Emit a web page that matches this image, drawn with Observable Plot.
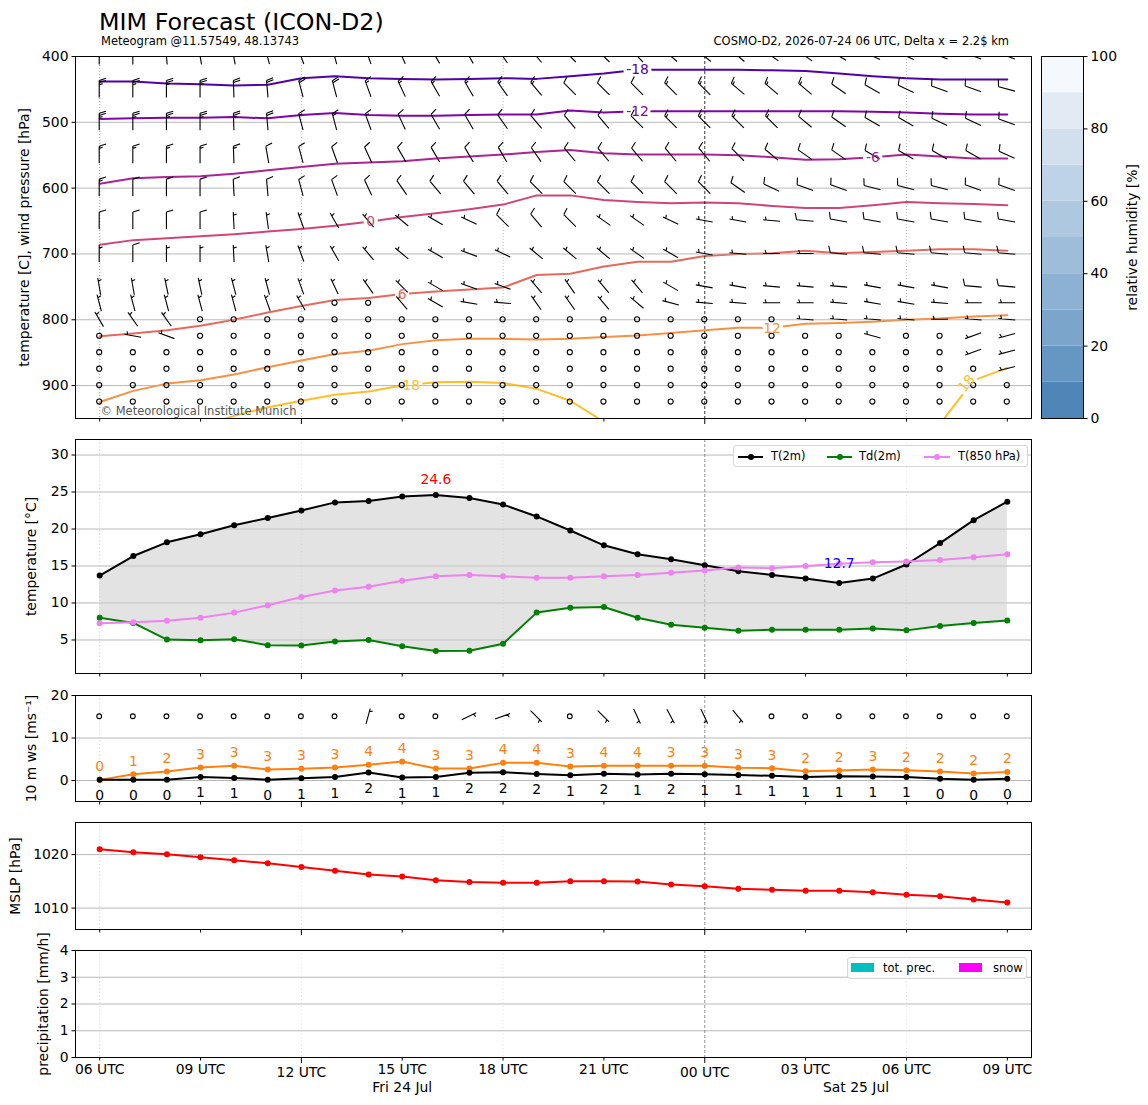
<!DOCTYPE html>
<html><head><meta charset="utf-8">
<script src="https://cdn.jsdelivr.net/npm/d3@7"></script>
<script src="https://cdn.jsdelivr.net/npm/@observablehq/plot@0.6"></script>
<style>
body{margin:0;background:#fff;font-family:"DejaVu Sans",sans-serif;}
#fig{position:relative;width:1148px;height:1105px;overflow:hidden;background:#fff}
</style></head><body><div id="fig"></div>
<script>
// ---------------- data ----------------
const timeLabels = ["2026-07-24T06:00Z","2026-07-24T07:00Z","2026-07-24T08:00Z","2026-07-24T09:00Z","2026-07-24T10:00Z","2026-07-24T11:00Z","2026-07-24T12:00Z","2026-07-24T13:00Z","2026-07-24T14:00Z","2026-07-24T15:00Z","2026-07-24T16:00Z","2026-07-24T17:00Z","2026-07-24T18:00Z","2026-07-24T19:00Z","2026-07-24T20:00Z","2026-07-24T21:00Z","2026-07-24T22:00Z","2026-07-24T23:00Z","2026-07-25T00:00Z","2026-07-25T01:00Z","2026-07-25T02:00Z","2026-07-25T03:00Z","2026-07-25T04:00Z","2026-07-25T05:00Z","2026-07-25T06:00Z","2026-07-25T07:00Z","2026-07-25T08:00Z","2026-07-25T09:00Z"];
const dayLabels = [{t:"2026-07-24T15:00Z", s:"Fri 24 Jul"}, {t:"2026-07-25T04:30Z", s:"Sat 25 Jul"}];

const t2m  = [13.7,16.35,18.2,19.3,20.5,21.5,22.5,23.6,23.8,24.4,24.6,24.2,23.3,21.7,19.8,17.8,16.6,15.9,15.1,14.3,13.8,13.3,12.7,13.3,15.2,18.1,21.2,23.7];
const td2m = [8.0,7.3,5.05,4.95,5.1,4.3,4.25,4.8,5.0,4.15,3.5,3.55,4.5,8.7,9.35,9.45,8.0,7.05,6.65,6.25,6.4,6.4,6.4,6.55,6.3,6.9,7.3,7.65];
const t850 = [7.25,7.4,7.6,8.0,8.7,9.7,10.8,11.7,12.2,13.0,13.6,13.8,13.6,13.4,13.4,13.6,13.8,14.1,14.4,14.8,14.7,15.0,15.3,15.5,15.6,15.8,16.2,16.6];

const ws10   = [0.15,0.2,0.2,0.85,0.6,0.2,0.55,0.8,1.9,0.7,0.85,1.8,1.95,1.55,1.25,1.6,1.4,1.6,1.45,1.3,1.1,0.85,1.0,0.95,0.85,0.4,0.2,0.4];
const gust10 = [0.15,1.45,2.1,3.05,3.45,2.6,2.75,3.05,3.7,4.45,2.8,2.8,4.15,4.15,3.3,3.5,3.5,3.45,3.45,3.0,2.9,2.2,2.35,2.6,2.4,2.1,1.65,2.0];
const dir10  = [0,0,0,0,0,0,0,0,15,0,0,65,70,135,140,135,155,152,155,140,0,0,0,0,0,0,0,0];

const mslp = [1021.0,1020.45,1020.05,1019.5,1018.95,1018.4,1017.7,1017.0,1016.3,1015.9,1015.2,1014.9,1014.75,1014.75,1015.0,1015.0,1014.95,1014.4,1014.1,1013.6,1013.45,1013.25,1013.25,1012.95,1012.5,1012.2,1011.6,1011.05];
const totPrec = [0,0,0,0,0,0,0,0,0,0,0,0,0,0,0,0,0,0,0,0,0,0,0,0,0,0,0,0];
const snowPrec = [0,0,0,0,0,0,0,0,0,0,0,0,0,0,0,0,0,0,0,0,0,0,0,0,0,0,0,0];

// isotherms: pressure [hPa] of each temperature level per hour (null = below ground / not drawn)
const contourLevels = [-18,-12,-6,0,6,12,18];
const isoM18 = [438,438,441,442,444,443,433,430,433,434,435,434,433,434,430,426,420,420,420,420,421,422,426,430,433,435,435,435];
const isoM12 = [495,494,493,493,492,494,489,486,489,490,490,489,488,488,482,485,483,483,483,483,483,483,483,484,485,487,488,488];
const isoM6  = [593.5,585,583,582,578,573,568,563,561,559,555,552,549,545,542,547,549,549,549,550,553,557,556,553,549,552,555,555];
const iso0   = [686,679,676,673,670,666,662,657,651,644,638,632,625,611,611,618,621,623,622,623,627,630,630,626,621,623,624,626];
const iso6   = [825,821,816,809,800,789,779,770,767,761,757,754,751,732,730,719,712,712,703,700,699,695,699,697,695,693,693,695];
const iso12  = [925,908,897,892,883,872,862,852,847,837,831,829,829,830,829,826,824,820,816,812,812,806,805,803,800,798,795,793];
const iso18  = [null,null,null,962,946,933,923,914,909,900,895,894,896,905,923,955,null,null,null,null,null,null,null,null,null,958,892,873];

// wind barbs: levels [hPa], direction [deg], speed [kt]
const barbLevels = [400,450,500,550,600,650,700,750,775,800,825,850,875,900,925];
const windDir = [
 [0,0,355,350,350,345,340,345,340,335,330,330,325,320,315,315,315,310,310,310,305,305,300,295,295,290,290,290],
 [0,0,0,0,358,355,345,345,340,335,330,330,325,320,315,315,315,315,315,310,310,310,305,300,295,290,290,285],
 [0,0,0,0,358,355,345,345,340,335,330,330,325,320,320,320,315,315,315,315,315,310,305,300,300,295,295,290],
 [0,0,0,0,358,350,345,340,335,330,330,330,330,325,320,320,320,320,320,315,310,305,305,300,300,300,300,295],
 [0,0,0,0,357,355,345,340,335,325,320,320,320,315,315,315,315,315,315,305,295,290,290,285,285,285,290,290],
 [0,0,0,0,357,352,340,330,320,310,300,295,315,320,315,305,305,295,280,280,275,275,280,280,280,280,280,280],
 [0,0,0,0,357,350,340,330,320,310,300,290,295,310,310,310,305,300,280,275,270,270,275,275,275,275,275,275],
 [350,350,348,348,345,345,340,335,325,315,300,290,290,320,325,320,320,300,280,280,275,275,275,280,280,280,275,275],
 [345,345,345,345,345,340,330,0,0,320,300,280,275,325,325,320,310,285,275,275,270,270,275,280,280,275,270,270],
 [330,325,325,0,0,0,0,0,0,0,0,0,0,0,0,0,0,0,0,0,0,275,275,275,275,270,275,275],
 [0,280,290,0,0,0,0,0,0,0,0,0,0,0,0,0,0,0,0,0,0,0,0,285,0,0,250,255],
 [0,0,0,0,0,0,0,0,0,0,0,0,0,0,0,0,0,0,0,0,0,0,0,0,0,0,250,255],
 [0,0,0,0,0,0,0,0,0,0,0,0,0,0,0,0,0,0,0,0,0,0,0,0,0,0,0,255],
 [0,0,0,0,0,0,0,0,0,0,0,0,0,0,0,0,0,0,0,0,0,0,0,0,0,0,0,0],
 [0,0,0,0,0,0,0,0,0,0,0,0,0,0,0,0,0,0,0,0,0,0,0,0,0,0,0,0]
];
const windSpd = [
 [25,25,25,25,25,25,20,20,20,20,15,15,15,15,15,15,15,15,15,15,15,15,15,15,15,15,15,15],
 [25,25,25,25,20,20,20,20,15,15,15,15,15,15,10,10,10,15,15,15,15,15,10,10,10,10,10,10],
 [25,25,25,25,25,20,15,15,15,10,10,10,10,10,10,10,10,15,15,15,15,10,10,10,10,10,10,10],
 [15,15,15,15,15,10,10,10,10,10,10,10,10,10,10,10,10,10,10,10,10,10,10,10,10,10,10,10],
 [15,10,10,10,10,10,10,10,10,10,10,10,10,10,10,10,10,10,10,10,10,10,10,10,10,10,10,10],
 [10,10,10,10,5,5,5,5,5,5,5,5,10,10,10,5,5,5,5,5,5,10,10,10,10,10,10,10],
 [5,10,5,5,5,5,5,5,5,5,5,5,5,5,5,5,5,5,5,5,5,5,10,10,10,10,10,10],
 [5,5,5,5,5,5,5,5,5,5,5,5,5,5,5,5,5,5,5,5,5,5,5,5,5,5,10,10],
 [5,5,5,5,5,5,5,0,0,5,5,5,5,5,5,5,5,5,5,5,5,5,5,5,5,5,5,5],
 [5,5,5,0,0,0,0,0,0,0,0,0,0,0,0,0,0,0,0,0,0,5,5,5,5,5,5,5],
 [0,5,5,0,0,0,0,0,0,0,0,0,0,0,0,0,0,0,0,0,0,0,0,5,0,0,5,5],
 [0,0,0,0,0,0,0,0,0,0,0,0,0,0,0,0,0,0,0,0,0,0,0,0,0,0,5,5],
 [0,0,0,0,0,0,0,0,0,0,0,0,0,0,0,0,0,0,0,0,0,0,0,0,0,0,0,5],
 [0,0,0,0,0,0,0,0,0,0,0,0,0,0,0,0,0,0,0,0,0,0,0,0,0,0,0,0],
 [0,0,0,0,0,0,0,0,0,0,0,0,0,0,0,0,0,0,0,0,0,0,0,0,0,0,0,0]
];

// relative humidity colorbar
const rhBounds = [0,10,20,30,40,50,60,70,80,90,100];
const rhColors = ["#4f86b8","#6697c3","#7ba5cb","#8db1d2","#9dbdd8","#aec8df","#bed3e7","#d2e0ed","#e2eaf3","#f5f9fd"];
const rhTicks = [0,20,40,60,80,100];

const yTicks1 = [400,500,600,700,800,900];
const yTicks2 = [5,10,15,20,25,30];
const yTicks3 = [0,10,20];
const yTicks4 = [1010,1020];
const yTicks5 = [0,1,2,3,4];

// ---------------- layout / styling ----------------
const FONT = "DejaVu Sans";
const FS = 13.9;
const times = timeLabels.map(s => new Date(s));
const HOUR = 3600e3;
const padH = 0.72;
const xDomain = [new Date(+times[0] - padH*HOUR), new Date(+times[times.length-1] + padH*HOUR)];
const tick3 = times.filter(d => d.getUTCHours() % 3 === 0);
const tickMajor = tick3.filter(d => d.getUTCHours() % 12 === 0);
const tickMinor = tick3.filter(d => d.getUTCHours() % 12 !== 0);
const grid6 = times.filter(d => d.getUTCHours() % 6 === 0 && d.getUTCHours() !== 0);
const midnight = times.filter(d => d.getUTCHours() === 0);
const isoColors = contourLevels.map((v,i) => d3.interpolatePlasma(0.14 + i*0.12));
const isotherms = [isoM18, isoM12, isoM6, iso0, iso6, iso12, iso18];
const isoLabelSpots = [
  {k:0, col:16, dx:0, dy:0, rot:0},
  {k:1, col:16, dx:0, dy:0, rot:0},
  {k:2, col:23, dx:0, dy:0, rot:0},
  {k:3, col:8, dx:2, dy:0, rot:0},
  {k:4, col:9, dx:0, dy:0, rot:0},
  {k:5, col:20, dx:0, dy:1, rot:0},
  {k:6, col:9, dx:9, dy:0, rot:0},
  {k:6, col:26, dx:-7, dy:3, rot:-50}
];

const fig = document.getElementById("fig");
function place(el, left, top) {
  el.style.position = "absolute"; el.style.left = left + "px"; el.style.top = top + "px";
  fig.appendChild(el);
}
function common(h, mt, mb) {
  return {width: 1148, height: h, marginLeft: 75, marginRight: 117, marginTop: mt, marginBottom: mb,
    style: {fontFamily: FONT, fontSize: FS + "px", background: "transparent", overflow: "visible", color: "black"},
    x: {type: "utc", domain: xDomain, axis: null}};
}
function xAxes(labels) {
  const fmt = labels ? d3.utcFormat("%H UTC") : () => "";
  return [
    Plot.axisX(tickMinor, {tickSize: 3.5, tickPadding: 3.5, tickFormat: fmt, label: null, fontSize: FS}),
    Plot.axisX(tickMajor, {tickSize: 6, tickPadding: 3.5, tickFormat: fmt, label: null, fontSize: FS})
  ];
}
function yAxis(ticks) {
  return Plot.axisY(ticks, {anchor: "left", tickSize: 3.5, tickPadding: 3.5, label: null, tickFormat: d => String(d), fontSize: FS});
}
function yLabel(s, dx) {
  return Plot.text([s], {frameAnchor: "left", dx, rotate: -90, text: d => d, textAnchor: "middle", lineAnchor: "middle", fontSize: FS});
}
const gridH = ticks => Plot.ruleY(ticks, {stroke: "#b0b0b0", strokeWidth: 0.9});
const gridV = Plot.ruleX(grid6, {stroke: "#d4d4d4", strokeWidth: 0.7, strokeDasharray: "1,2.5"});
const midRule = (c) => Plot.ruleX(midnight, {stroke: c, strokeWidth: 0.8, strokeDasharray: "3,2"});

// wind barb renderer (uses the plot's own x / y scales)
let clipCounter = 0;
function barbMark(items, L) {
  return (index, scales, values, dims) => {
    const ns = "http://www.w3.org/2000/svg";
    const g = document.createElementNS(ns, "g");
    const id = "barbclip" + (clipCounter++);
    const cp = document.createElementNS(ns, "clipPath"); cp.setAttribute("id", id);
    const r = document.createElementNS(ns, "rect");
    r.setAttribute("x", dims.marginLeft); r.setAttribute("y", dims.marginTop);
    r.setAttribute("width", dims.width - dims.marginLeft - dims.marginRight);
    r.setAttribute("height", dims.height - dims.marginTop - dims.marginBottom);
    cp.appendChild(r); g.appendChild(cp);
    const inner = document.createElementNS(ns, "g");
    inner.setAttribute("clip-path", `url(#${id})`);
    g.appendChild(inner);
    const H = 0.4*L, W = 0.25*L, S = 0.125*L, R = 0.15*L;
    let lines = "", flags = "";
    for (const it of items) {
      const cx = scales.x(it.t), cy = scales.y(it.y);
      let spd = 5 * Math.round(it.spd / 5);
      if (spd < 5) {
        const c = document.createElementNS(ns, "circle");
        c.setAttribute("cx", cx); c.setAttribute("cy", cy); c.setAttribute("r", R);
        c.setAttribute("fill", "none"); c.setAttribute("stroke", "black"); c.setAttribute("stroke-width", 1.1);
        inner.appendChild(c);
        continue;
      }
      const th = it.dir * Math.PI / 180;
      const dx = Math.sin(th), dy = -Math.cos(th), nx = Math.cos(th), ny = Math.sin(th);
      const bx = cx - dx*L/2, by = cy - dy*L/2;
      const P = (a, h = 0) => `${(bx + dx*a + nx*h).toFixed(2)},${(by + dy*a + ny*h).toFixed(2)}`;
      const nflags = Math.floor(spd / 50); spd -= 50*nflags;
      const nbarbs = Math.floor(spd / 10); spd -= 10*nbarbs;
      const half = spd >= 5;
      lines += `M${P(0)}L${P(L)}`;
      let off = L;
      for (let k = 0; k < nflags; k++) {
        if (off !== L) off += S/2;
        flags += `M${P(off)}L${P(off - W/2, H)}L${P(off - W)}Z`;
        off -= W + S;
      }
      for (let k = 0; k < nbarbs; k++) {
        lines += `M${P(off)}L${P(off + W/2, H)}`;
        off -= S;
      }
      if (half) {
        if (off === L) off -= 1.5*S;
        lines += `M${P(off)}L${P(off + W/4, H/2)}`;
      }
    }
    const p1 = document.createElementNS(ns, "path");
    p1.setAttribute("d", lines); p1.setAttribute("fill", "none"); p1.setAttribute("stroke", "black");
    p1.setAttribute("stroke-width", 1.1); p1.setAttribute("stroke-linecap", "butt");
    inner.appendChild(p1);
    if (flags) {
      const p2 = document.createElementNS(ns, "path");
      p2.setAttribute("d", flags); p2.setAttribute("fill", "black"); p2.setAttribute("stroke", "black");
      inner.appendChild(p2);
    }
    return g;
  };
}

// ---------------- panel 1: isotherms + wind barbs ----------------
const upperItems = [];
barbLevels.forEach((p, i) => times.forEach((t, j) => upperItems.push({t, y: p, dir: windDir[i][j], spd: windSpd[i][j]})));

const isoLines = isotherms.map((arr, k) => Plot.line(times.map((t, j) => ({t, p: arr[j]})),
  {x: "t", y: "p", stroke: isoColors[k], strokeWidth: 2, clip: true, defined: d => d.p != null}));
const spotText = (s, mask) => Plot.text([s], {
  x: d => times[d.col], y: d => isotherms[d.k][d.col], text: d => String(contourLevels[d.k]),
  dx: s.dx, dy: s.dy, rotate: s.rot, fontSize: FS,
  fill: mask ? "white" : isoColors[s.k], stroke: mask ? "white" : null, strokeWidth: mask ? 7 : 0
});
const isoMasks = isoLabelSpots.map(s => spotText(s, true));
const isoTexts = isoLabelSpots.map(s => spotText(s, false));

const p1 = Plot.plot({
  ...common(430, 56, 12),
  y: {domain: [400, 950], reverse: true, axis: null},
  marks: [
    ...isoLines,
    ...isoMasks,
    gridH(yTicks1),
    Plot.ruleX([times[0], ...grid6], {stroke: "#aaaaaa", strokeWidth: 0.8, strokeDasharray: "1,2"}),
    midRule("black"),
    barbMark(upperItems, 17),
    ...isoTexts,
    Plot.text(["© Meteorological Institute Munich"], {frameAnchor: "bottom-left", dx: 25, dy: -4, text: d => d,
      textAnchor: "start", lineAnchor: "bottom", fontSize: 11.5, fill: "#555"}),
    Plot.frame({stroke: "black", strokeWidth: 1}),
    yAxis(yTicks1),
    ...xAxes(false),
    yLabel("temperature [C], wind pressure [hPa]", -51)
  ]
});
place(p1, 0, 0);

// colorbar
const rhBands = rhColors.map((c, i) => ({lo: rhBounds[i], hi: rhBounds[i+1], c}));
const cb = Plot.plot({
  width: 1148, height: 430, marginLeft: 1041, marginRight: 65, marginTop: 56, marginBottom: 12,
  style: {fontFamily: FONT, fontSize: FS + "px", background: "transparent", overflow: "visible"},
  x: {domain: [0, 1], axis: null}, y: {domain: [0, 100], axis: null}, color: {type: "identity"},
  marks: [
    Plot.rect(rhBands, {x1: 0, x2: 1, y1: "lo", y2: "hi", fill: "c"}),
    Plot.frame({stroke: "black", strokeWidth: 1}),
    Plot.axisY(rhTicks, {anchor: "right", tickSize: 3.5, tickPadding: 3.5, label: null, tickFormat: d => String(d), fontSize: FS}),
    Plot.text(["relative humidity [%]"], {frameAnchor: "right", dx: 49, rotate: -90, text: d => d, textAnchor: "middle", lineAnchor: "middle", fontSize: FS})
  ]
});
place(cb, 0, 0);

// ---------------- panel 2: temperatures ----------------
const tData = times.map((t, i) => ({t, T: t2m[i], Td: td2m[i], T850: t850[i]}));
const iMax = d3.maxIndex(t2m), iMin = d3.minIndex(t2m);
const p2 = Plot.plot({
  ...common(254, 9, 11),
  y: {domain: [0.47, 32.1], axis: null},
  marks: [
    gridH(yTicks2),
    Plot.ruleX([times[0], ...grid6], {stroke: "#d4d4d4", strokeWidth: 0.7, strokeDasharray: "1,2.5"}),
    midRule("#777"),
    Plot.areaY(tData, {x: "t", y1: "Td", y2: "T", fill: "#cccccc", fillOpacity: 0.55}),
    Plot.line(tData, {x: "t", y: "T", stroke: "black", strokeWidth: 2}),
    Plot.dot(tData, {x: "t", y: "T", r: 3, fill: "black"}),
    Plot.line(tData, {x: "t", y: "Td", stroke: "green", strokeWidth: 2}),
    Plot.dot(tData, {x: "t", y: "Td", r: 3, fill: "green"}),
    Plot.line(tData, {x: "t", y: "T850", stroke: "violet", strokeWidth: 2}),
    Plot.dot(tData, {x: "t", y: "T850", r: 3, fill: "violet"}),
    Plot.text([iMax], {x: i => times[i], y: i => t2m[i], text: i => t2m[i].toFixed(1), dy: -15, fill: "red", fontSize: FS}),
    Plot.text([iMin], {x: i => times[i], y: i => t2m[i], text: i => t2m[i].toFixed(1), dy: -19, fill: "blue", fontSize: FS}),
    Plot.frame({stroke: "black", strokeWidth: 1}),
    yAxis(yTicks2),
    ...xAxes(false),
    yLabel("temperature [°C]", -44)
  ]
});
place(p2, 0, 430);

// ---------------- panel 3: 10 m wind ----------------
const wData = times.map((t, i) => ({t, ws: ws10[i], g: gust10[i]}));
const sfcItems = times.map((t, i) => ({t, y: 15, dir: dir10[i], spd: ws10[i] * 1.944}));
const p3 = Plot.plot({
  ...common(127, 11, 10),
  y: {domain: [-4.94, 20], axis: null},
  marks: [
    gridH(yTicks3),
    Plot.ruleX([times[0], ...grid6], {stroke: "#d4d4d4", strokeWidth: 0.7, strokeDasharray: "1,2.5"}),
    midRule("#777"),
    Plot.line(wData, {x: "t", y: "g", stroke: "#ff7f0e", strokeWidth: 2}),
    Plot.dot(wData, {x: "t", y: "g", r: 3, fill: "#ff7f0e"}),
    Plot.line(wData, {x: "t", y: "ws", stroke: "black", strokeWidth: 2}),
    Plot.dot(wData, {x: "t", y: "ws", r: 3, fill: "black"}),
    Plot.text(wData, {x: "t", y: "g", text: d => String(Math.round(d.g)), dy: -13, fill: "#ff7f0e", fontSize: FS}),
    Plot.text(wData, {x: "t", y: "ws", text: d => String(Math.round(d.ws)), dy: 16, fill: "black", fontSize: FS}),
    barbMark(sfcItems, 16),
    Plot.frame({stroke: "black", strokeWidth: 1}),
    yAxis(yTicks3),
    ...xAxes(false),
    yLabel("10 m ws [ms⁻¹]", -44)
  ]
});
place(p3, 0, 684);

// ---------------- panel 4: MSLP ----------------
const pData = times.map((t, i) => ({t, p: mslp[i]}));
const p4 = Plot.plot({
  ...common(127, 10, 10),
  y: {domain: [1006, 1026], axis: null},
  marks: [
    gridH(yTicks4),
    Plot.ruleX([times[0], ...grid6], {stroke: "#d4d4d4", strokeWidth: 0.7, strokeDasharray: "1,2.5"}),
    midRule("#777"),
    Plot.line(pData, {x: "t", y: "p", stroke: "red", strokeWidth: 2}),
    Plot.dot(pData, {x: "t", y: "p", r: 3, fill: "red"}),
    Plot.frame({stroke: "black", strokeWidth: 1}),
    yAxis(yTicks4),
    ...xAxes(false),
    yLabel("MSLP [hPa]", -60)
  ]
});
place(p4, 0, 812);

// ---------------- panel 5: precipitation ----------------
const rData = times.map((t, i) => ({t, t2: new Date(+t + HOUR), tp: totPrec[i], sn: snowPrec[i]}));
const p5 = Plot.plot({
  ...common(165, 10, 48),
  y: {domain: [0, 4], axis: null},
  marks: [
    gridH(yTicks5),
    Plot.ruleX([times[0], ...grid6], {stroke: "#d4d4d4", strokeWidth: 0.7, strokeDasharray: "1,2.5"}),
    midRule("#777"),
    Plot.rectY(rData, {x1: "t", x2: "t2", y: "tp", fill: "#00bfbf"}),
    Plot.rectY(rData, {x1: "t", x2: "t2", y: "sn", fill: "#ff00ff"}),
    Plot.frame({stroke: "black", strokeWidth: 1}),
    yAxis(yTicks5),
    ...xAxes(true),
    Plot.text(dayLabels, {x: d => new Date(d.t), frameAnchor: "bottom", dy: 30, text: "s", lineAnchor: "middle", textAnchor: "middle", fontSize: FS}),
    yLabel("precipitation [mm/h]", -32)
  ]
});
place(p5, 0, 940);

// ---------------- header + legends (text only) ----------------
const header = document.createElementNS("http://www.w3.org/2000/svg", "svg");
header.setAttribute("width", 1148); header.setAttribute("height", 56);
header.innerHTML = `
<text x="99" y="29.5" font-family="${FONT}" font-size="23.8">MIM Forecast (ICON-D2)</text>
<text x="101" y="44.5" font-family="${FONT}" font-size="11.5">Meteogram @11.57549, 48.13743</text>
<text x="1009" y="44.5" font-family="${FONT}" font-size="11.5" text-anchor="end">COSMO-D2, 2026-07-24 06 UTC, Delta x = 2.2$ km</text>`;
place(header, 0, 0);

function legend(left, top, w, h, items) {
  const div = document.createElement("div");
  div.style.cssText = `width:${w}px;height:${h}px;box-sizing:border-box;border:1px solid #d6d6d6;border-radius:3px;background:rgba(255,255,255,0.85);font:11.5px '${FONT}';`;
  for (const it of items) {
    const sw = document.createElement("div");
    if (it.type === "line") {
      sw.style.cssText = `position:absolute;left:${it.x}px;top:${h/2 - 1.5}px;width:${it.w}px;height:2px;background:${it.c};`;
      const dot = document.createElement("div");
      dot.style.cssText = `position:absolute;left:${it.w/2 - 3}px;top:-2px;width:6px;height:6px;border-radius:3px;background:${it.c};`;
      sw.appendChild(dot);
    } else {
      sw.style.cssText = `position:absolute;left:${it.x}px;top:${h/2 - 6}px;width:${it.w}px;height:9px;background:${it.c};`;
    }
    div.appendChild(sw);
    const tx = document.createElement("div");
    tx.textContent = it.label;
    tx.style.cssText = `position:absolute;left:${it.tx}px;top:0;height:${h - 2}px;line-height:${h - 2}px;white-space:nowrap;color:#000;`;
    div.appendChild(tx);
  }
  place(div, left, top);
}
legend(733, 445, 295, 22, [
  {type: "line", x: 4, w: 25, c: "black", tx: 37, label: "T(2m)"},
  {type: "line", x: 93, w: 25, c: "green", tx: 125, label: "Td(2m)"},
  {type: "line", x: 190, w: 26, c: "violet", tx: 224, label: "T(850 hPa)"}
]);
legend(847, 957, 180, 22, [
  {type: "rect", x: 3, w: 23, c: "#00bfbf", tx: 35, label: "tot. prec."},
  {type: "rect", x: 111, w: 23, c: "#ff00ff", tx: 145, label: "snow"}
]);
</script></body></html>
